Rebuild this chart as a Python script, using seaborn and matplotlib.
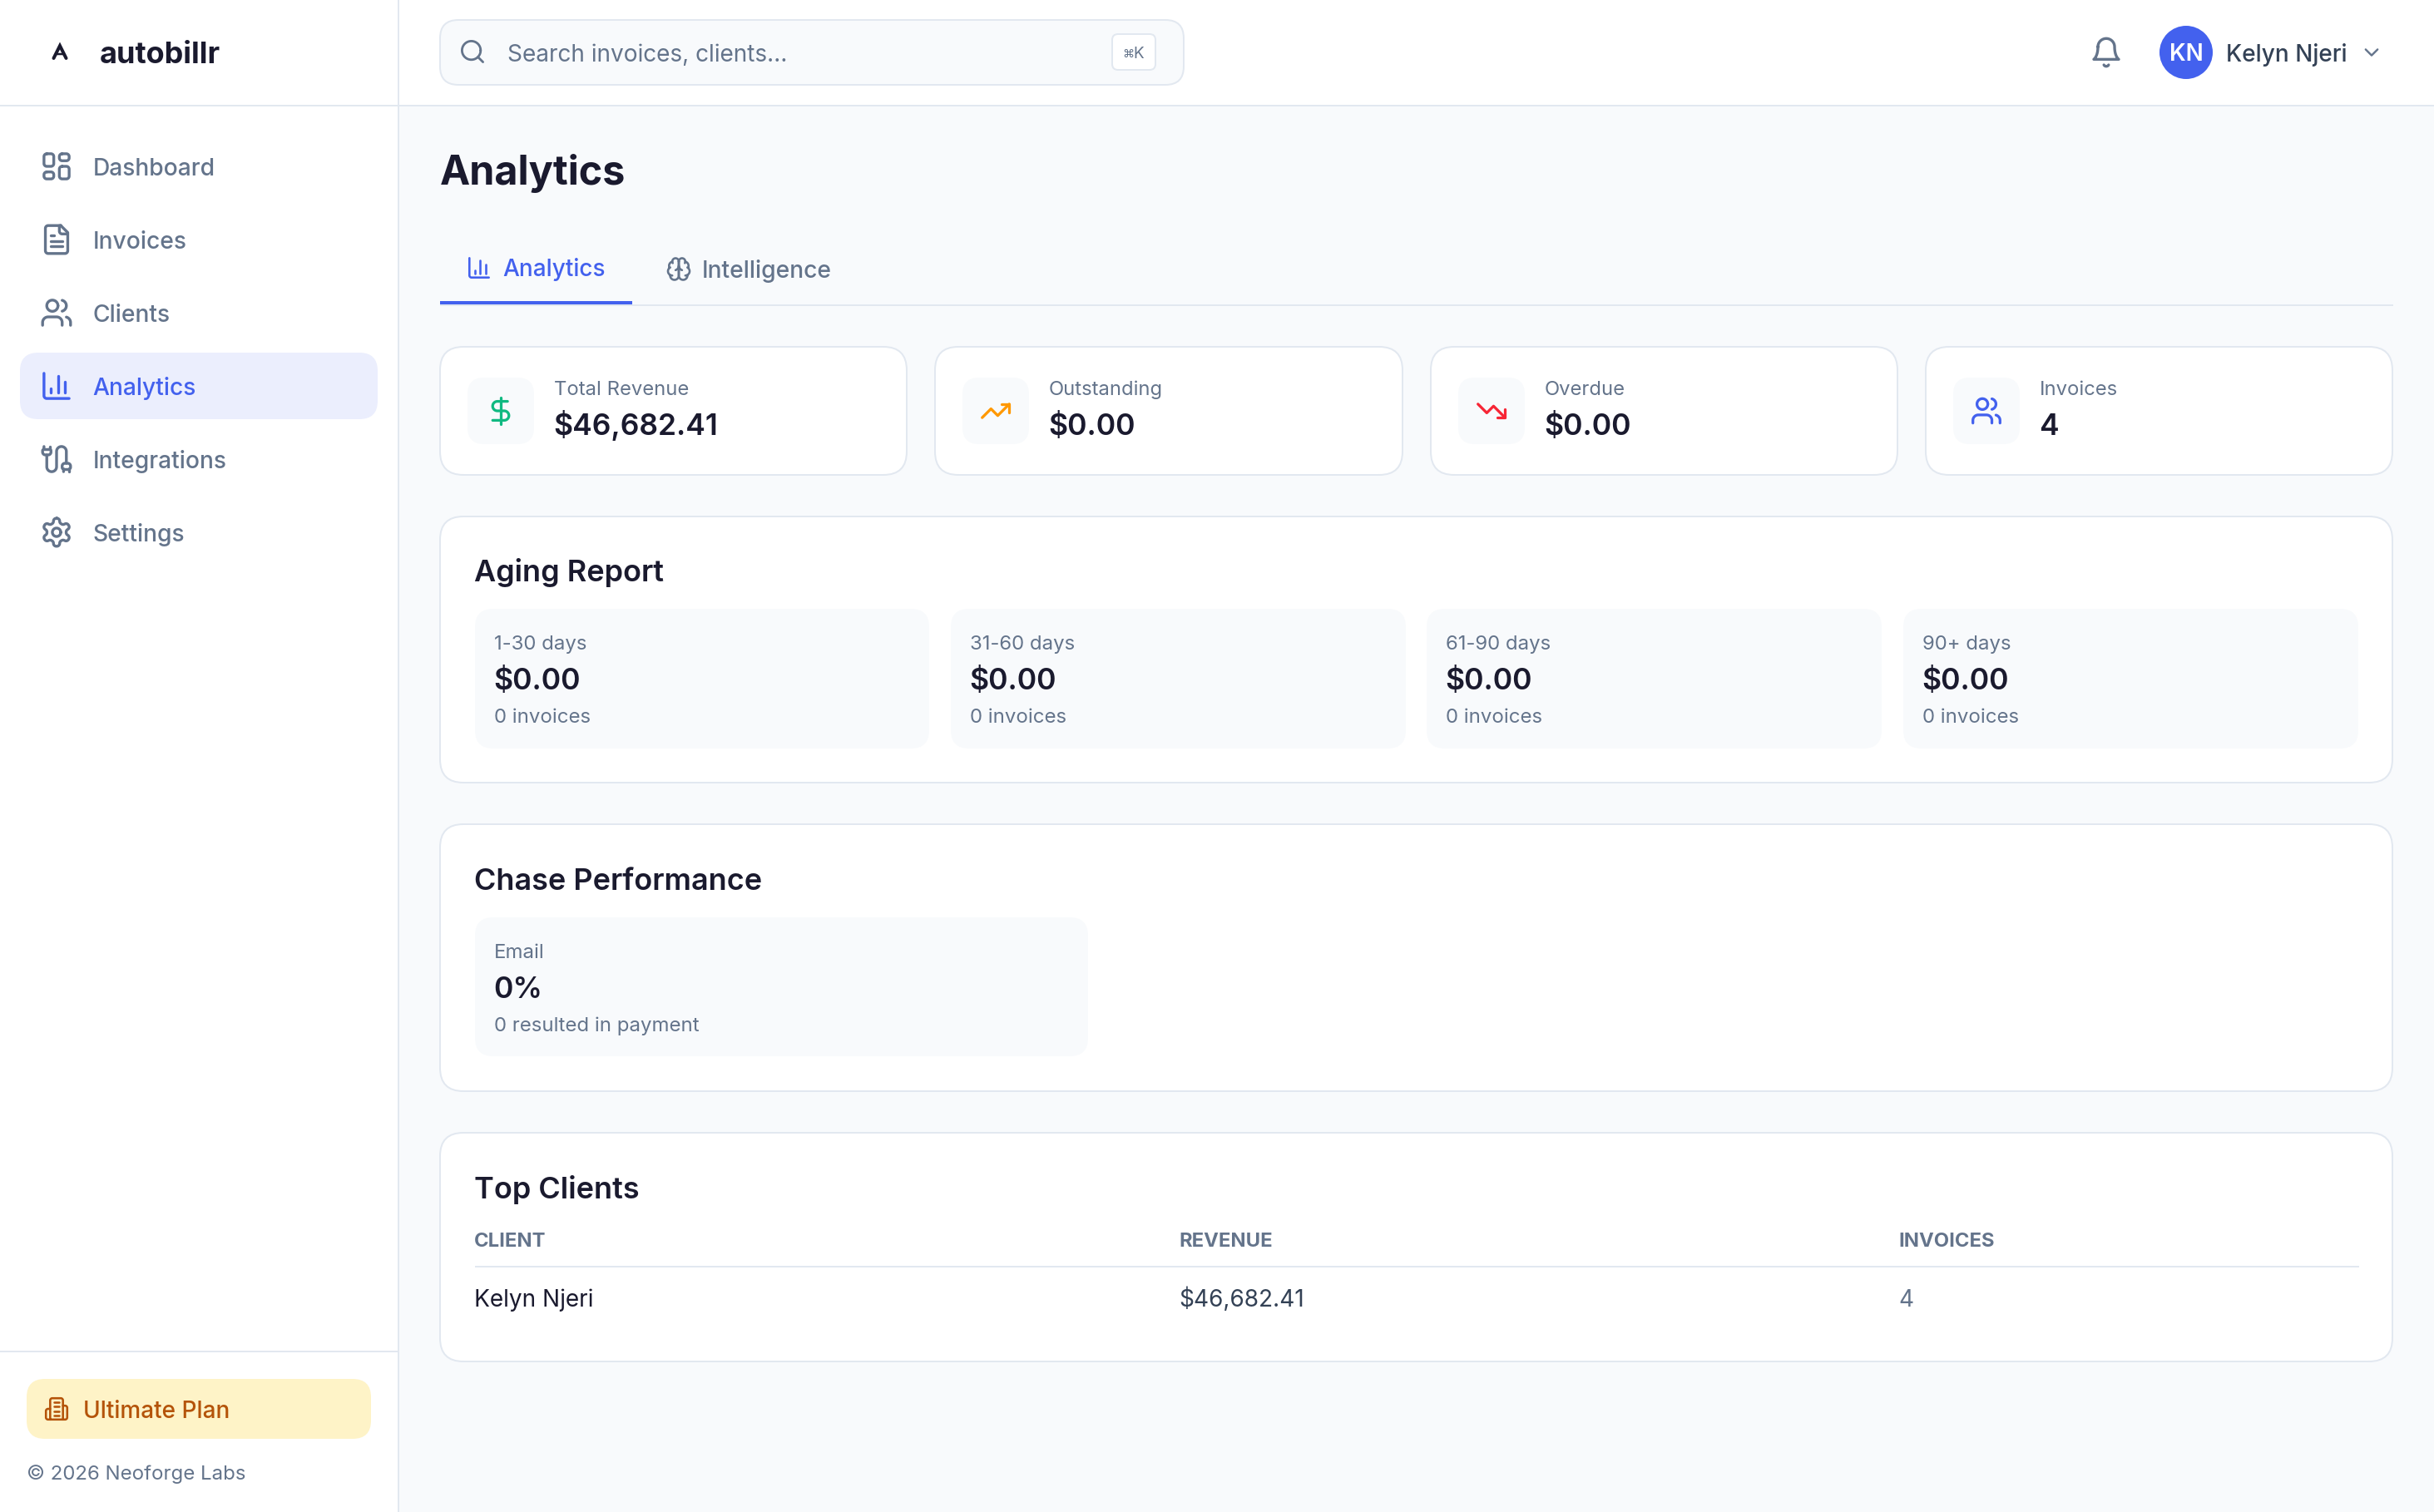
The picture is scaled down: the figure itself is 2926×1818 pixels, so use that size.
import re
import numpy as np
import matplotlib
matplotlib.use("Agg")
import matplotlib.pyplot as plt
import seaborn as sns
from matplotlib.patches import FancyBboxPatch, Circle, Rectangle

# ===== Content =====
nav_labels = ["Dashboard", "Invoices", "Clients", "Analytics", "Integrations", "Settings"]
kpi_labels = ["Total Revenue", "Outstanding", "Overdue", "Invoices"]
kpi_values = ["$46,682.41", "$0.00", "$0.00", "4"]
aging_labels = ["1-30 days", "31-60 days", "61-90 days", "90+ days"]
aging_values = ["$0.00", "$0.00", "$0.00", "$0.00"]
aging_counts = ["0 invoices", "0 invoices", "0 invoices", "0 invoices"]
chase_label, chase_value, chase_sub = "Email", "0%", "0 resulted in payment"
table_headers = ["CLIENT", "REVENUE", "INVOICES"]
table_row = ["Kelyn Njeri", "$46,682.41", "4"]

# ===== Colours =====
INK = "#1a1a2e"
SLATE = "#64748b"
BORDER = "#e2e8f0"
PAGE = "#f8fafc"
ACCENT = "#4361ee"
sns.set_theme(style="white")
plt.rcParams["font.family"] = ["Inter", "DejaVu Sans"]

# ===== Lucide icon paths =====
ICONS = {
    "dashboard": ["M5 3h3a2 2 0 0 1 2 2v5a2 2 0 0 1-2 2H5a2 2 0 0 1-2-2V5a2 2 0 0 1 2-2z",
                  "M16 3h3a2 2 0 0 1 2 2v1a2 2 0 0 1-2 2h-3a2 2 0 0 1-2-2V5a2 2 0 0 1 2-2z",
                  "M16 12h3a2 2 0 0 1 2 2v5a2 2 0 0 1-2 2h-3a2 2 0 0 1-2-2v-5a2 2 0 0 1 2-2z",
                  "M5 16h3a2 2 0 0 1 2 2v1a2 2 0 0 1-2 2H5a2 2 0 0 1-2-2v-1a2 2 0 0 1 2-2z"],
    "file": ["M15 2H6a2 2 0 0 0-2 2v16a2 2 0 0 0 2 2h12a2 2 0 0 0 2-2V7Z",
             "M14 2v4a2 2 0 0 0 2 2h4", "M10 9H8", "M16 13H8", "M16 17H8"],
    "users": ["M16 21v-2a4 4 0 0 0-4-4H6a4 4 0 0 0-4 4v2",
              "M13 7a4 4 0 1 1-8 0a4 4 0 1 1 8 0z",
              "M22 21v-2a4 4 0 0 0-3-3.87", "M16 3.13a4 4 0 0 1 0 7.75"],
    "chart": ["M3 3v16a2 2 0 0 0 2 2h16", "M18 17V9", "M13 17V5", "M8 17v-3"],
    "cable": ["M17 21v-2a1 1 0 0 1-1-1v-1a2 2 0 0 1 2-2h2a2 2 0 0 1 2 2v1a1 1 0 0 1-1 1",
              "M19 15V6.5a3.5 3.5 0 0 0-7 0v11a3.5 3.5 0 0 1-7 0V9",
              "M21 21v-2h-4", "M3 5h4V3",
              "M7 5a1 1 0 0 1 1 1v1a2 2 0 0 1-2 2H4a2 2 0 0 1-2-2V6a1 1 0 0 1 1-1V3"],
    "settings": ["M12.22 2h-.44a2 2 0 0 0-2 2v.18a2 2 0 0 1-1 1.73l-.43.25a2 2 0 0 1-2 0l-.15-.08a2 2 0 0 0-2.73.73l-.22.38a2 2 0 0 0 .73 2.73l.15.1a2 2 0 0 1 1 1.72v.51a2 2 0 0 1-1 1.74l-.15.09a2 2 0 0 0-.73 2.73l.22.38a2 2 0 0 0 2.73.73l.15-.08a2 2 0 0 1 2 0l.43.25a2 2 0 0 1 1 1.73V20a2 2 0 0 0 2 2h.44a2 2 0 0 0 2-2v-.18a2 2 0 0 1 1-1.73l.43-.25a2 2 0 0 1 2 0l.15.08a2 2 0 0 0 2.73-.73l.22-.39a2 2 0 0 0-.73-2.73l-.15-.08a2 2 0 0 1-1-1.74v-.5a2 2 0 0 1 1-1.74l.15-.09a2 2 0 0 0 .73-2.73l-.22-.38a2 2 0 0 0-2.73-.73l-.15.08a2 2 0 0 1-2 0l-.43-.25a2 2 0 0 1-1-1.73V4a2 2 0 0 0-2-2z",
                 "M15 12a3 3 0 1 1-6 0a3 3 0 1 1 6 0z"],
    "brain": ["M12 5a3 3 0 1 0-5.997.125 4 4 0 0 0-2.526 5.77 4 4 0 0 0 .556 6.588A4 4 0 1 0 12 18Z",
              "M12 5a3 3 0 1 1 5.997.125 4 4 0 0 1 2.526 5.77 4 4 0 0 1-.556 6.588A4 4 0 1 1 12 18Z",
              "M15 13a4.5 4.5 0 0 1-3-4 4.5 4.5 0 0 1-3 4",
              "M17.599 6.5a3 3 0 0 0 .399-1.375", "M6.003 5.125A3 3 0 0 0 6.401 6.5",
              "M3.477 10.896a4 4 0 0 1 .585-.396", "M19.938 10.5a4 4 0 0 1 .585.396",
              "M6 18a4 4 0 0 1-1.967-.516", "M19.967 17.484A4 4 0 0 1 18 18"],
    "dollar": ["M12 2V22", "M17 5H9.5a3.5 3.5 0 0 0 0 7h5a3.5 3.5 0 0 1 0 7H6"],
    "up": ["M22 7L13.5 15.5L8.5 10.5L2 17", "M16 7H22V13"],
    "down": ["M22 17L13.5 8.5L8.5 13.5L2 7", "M16 17H22V11"],
    "search": ["M19 11a8 8 0 1 1-16 0a8 8 0 1 1 16 0z", "M21 21l-4.3-4.3"],
    "bell": ["M6 8a6 6 0 0 1 12 0c0 7 3 9 3 9H3s3-2 3-9", "M10.3 21a1.94 1.94 0 0 0 3.4 0"],
    "chevron": ["M6 9l6 6l6-6"],
    "building": ["M6 22V4a2 2 0 0 1 2-2h8a2 2 0 0 1 2 2v18Z",
                 "M6 12H4a2 2 0 0 0-2 2v6a2 2 0 0 0 2 2h2",
                 "M18 9h2a2 2 0 0 1 2 2v9a2 2 0 0 1-2 2h-2",
                 "M10 6h4", "M10 10h4", "M10 14h4", "M10 18h4"],
}


def arc_points(p0, rx, ry, large, sweep, p1):
    # SVG endpoint arc to polyline (no x-axis rotation in these icons)
    dx, dy = (p0 - p1) / 2
    scale = max(1.0, np.sqrt(dx**2 / rx**2 + dy**2 / ry**2))
    rx, ry = rx * scale, ry * scale
    num = max(0.0, rx**2 * ry**2 - rx**2 * dy**2 - ry**2 * dx**2)
    co = np.sqrt(num / (rx**2 * dy**2 + ry**2 * dx**2))
    if large == sweep:
        co = -co
    cx_, cy_ = co * rx * dy / ry, -co * ry * dx / rx
    c = np.array([cx_, cy_]) + (p0 + p1) / 2
    a0 = np.arctan2((dy - cy_) / ry, (dx - cx_) / rx)
    a1 = np.arctan2((-dy - cy_) / ry, (-dx - cx_) / rx)
    if sweep and a1 < a0:
        a1 += 2 * np.pi
    if not sweep and a1 > a0:
        a1 -= 2 * np.pi
    t = np.linspace(a0, a1, 24)[1:]
    return np.column_stack([c[0] + rx * np.cos(t), c[1] + ry * np.sin(t)])


def svg_lines(d):
    tok = re.findall(r"[A-Za-z]|-?\d*\.?\d+", d)
    i, cur, start, pts, lines, cmd = 0, np.zeros(2), np.zeros(2), [], [], ""
    prev_ctrl = None

    def num(n):
        nonlocal i
        vals = [float(v) for v in tok[i:i + n]]
        i += n
        return vals

    while i < len(tok):
        if tok[i].isalpha():
            cmd = tok[i]
            i += 1
        low, rel = cmd.lower(), cmd.islower()
        base = cur if rel else np.zeros(2)
        ctrl = None
        if low == "m":
            cur = base + num(2)
            if pts:
                lines.append(np.array(pts))
            pts, start = [cur.copy()], cur.copy()
            cmd = "l" if rel else "L"
        elif low == "l":
            cur = base + num(2)
            pts.append(cur.copy())
        elif low == "h":
            cur = np.array([base[0] + num(1)[0], cur[1]])
            pts.append(cur.copy())
        elif low == "v":
            cur = np.array([cur[0], base[1] + num(1)[0]])
            pts.append(cur.copy())
        elif low in "cs":
            if low == "c":
                v = num(6)
                c1, c2, end = base + v[:2], base + v[2:4], base + v[4:]
            else:
                v = num(4)
                c1 = cur if prev_ctrl is None else 2 * cur - prev_ctrl
                c2, end = base + v[:2], base + v[2:]
            for t in np.linspace(0, 1, 20)[1:]:
                pts.append((1 - t)**3 * cur + 3 * (1 - t)**2 * t * c1 + 3 * (1 - t) * t**2 * c2 + t**3 * end)
            cur, ctrl = end, c2
        elif low == "a":
            v = num(7)
            end = base + v[5:]
            pts.extend(arc_points(cur, v[0], v[1], bool(v[3]), bool(v[4]), end))
            cur = end
        elif low == "z":
            pts.append(start.copy())
            cur = start.copy()
        prev_ctrl = ctrl
    if pts:
        lines.append(np.array(pts))
    return lines


# ===== Canvas: one axes in screenshot pixels =====
fig = plt.figure(figsize=(29.26, 18.18), dpi=100, facecolor=PAGE)
ax = fig.add_axes([0, 0, 1, 1])
ax.set_xlim(0, 2926)
ax.set_ylim(1818, 0)
ax.set_facecolor(PAGE)
ax.set_xticks([])
ax.set_yticks([])
sns.despine(ax=ax, left=True, bottom=True)


def pt(px):
    return px * 0.72


def box(x0, y0, x1, y1, r, fc, ec="none", lw=2, z=2):
    ax.add_patch(FancyBboxPatch((x0, y0), x1 - x0, y1 - y0,
                                boxstyle=f"round,pad=0,rounding_size={r}",
                                fc=fc, ec=ec, lw=pt(lw), zorder=z))


def rect(x0, y0, x1, y1, fc, z=1):
    ax.add_patch(Rectangle((x0, y0), x1 - x0, y1 - y0, fc=fc, ec="none", zorder=z))


def label(x, y, s, size, color=INK, weight="normal", ha="left"):
    # y is the baseline, size in screenshot pixels
    ax.text(x, y, s, fontsize=pt(size), color=color, fontweight=weight, ha=ha, va="baseline", zorder=6)


def icon(name, cx, cy, s, color, stroke=2.0):
    for d in ICONS[name]:
        for ln in svg_lines(d):
            ax.plot(cx + (ln[:, 0] - 12) * s, cy + (ln[:, 1] - 12) * s, color=color,
                    lw=pt(stroke * s), solid_capstyle="round", solid_joinstyle="round", zorder=6)


# ===== Frame =====
rect(0, 0, 478, 1818, "white")
rect(478, 0, 2926, 126, "white")
rect(478, 0, 480, 1818, BORDER, z=3)
rect(0, 126, 2926, 128, BORDER, z=3)
rect(0, 1624, 478, 1626, BORDER, z=3)

# ===== Sidebar =====
ax.plot([64.5, 72, 79.5], [70, 55, 70], color=INK, lw=pt(4), solid_joinstyle="miter", zorder=6)
ax.plot([68, 76], [65, 65], color=INK, lw=pt(2.5), zorder=6)
label(120, 76, "autobillr", 36, weight="bold")

nav_icons = ["dashboard", "file", "users", "chart", "cable", "settings"]
nav_y = [201, 289, 377, 465, 553, 641]
box(24, 424, 454, 504, 22, "#ebeefd")
for name, ic, y in zip(nav_labels, nav_icons, nav_y):
    col = ACCENT if name == "Analytics" else SLATE
    icon(ic, 68, y - 1, 1.68, col)
    label(111.5, y + 10, name, 28.2, col, "medium")

box(32, 1658, 446, 1730, 22, "#fef3c7")
icon("building", 68, 1694, 1.28, "#b45309")
label(100, 1705, "Ultimate Plan", 28, "#b45309", "medium")
label(32, 1779, "© 2026 Neoforge Labs", 24, SLATE)

# ===== Top bar =====
box(529, 24, 1423, 102, 22, PAGE, BORDER)
icon("search", 568, 62, 1.4, SLATE)
label(610, 74, "Search invoices, clients...", 28, SLATE)
box(1337, 41, 1389, 84, 7, "white", BORDER)
label(1349, 69, "⌘", 14, SLATE)
label(1362, 70, "K", 19, SLATE)
icon("bell", 2532, 63, 1.67, SLATE)
ax.add_patch(Circle((2628, 63), 32, fc=ACCENT, ec="none", zorder=5))
label(2628, 73, "KN", 28, "white", "semibold", ha="center")
label(2676, 74, "Kelyn Njeri", 28, "#334155", "medium")
icon("chevron", 2851, 63, 1.2, SLATE)

# ===== Page title and tabs =====
label(529, 222.5, "Analytics", 48.5, weight="bold")
rect(529, 366, 2877, 368, BORDER, z=3)
rect(529, 362, 760, 366, ACCENT, z=4)
icon("chart", 576, 322, 1.3, ACCENT)
label(604, 332, "Analytics", 28, ACCENT, "medium")
icon("brain", 816, 323.5, 1.3, SLATE)
label(844, 334, "Intelligence", 28.2, SLATE, "medium")

# ===== KPI cards =====
kpi_x = [(529, 1090), (1124, 1686), (1720, 2281), (2315, 2876)]
kpi_icons = [("dollar", "#10b981", 1.63), ("up", "#ff9800", 1.63),
             ("down", "#f72535", 1.63), ("users", ACCENT, 1.63)]
for (x0, x1), (ic, col, s), lab, val in zip(kpi_x, kpi_icons, kpi_labels, kpi_values):
    box(x0, 417, x1, 571, 28, "white", BORDER)
    box(x0 + 33, 454, x0 + 113, 534, 20, PAGE, z=3)
    icon(ic, x0 + 73, 494, s, col)
    label(x0 + 137, 475, lab, 23.8, SLATE)
    label(x0 + 136.5, 523, val, 35.5, weight="semibold")

# ===== Aging report =====
box(529, 621, 2876, 941, 28, "white", BORDER)
label(570, 698.5, "Aging Report", 36, weight="semibold")
aging_x = [(571, 1117), (1143, 1690), (1715, 2262), (2288, 2835)]
for (x0, x1), lab, val, cnt in zip(aging_x, aging_labels, aging_values, aging_counts):
    box(x0, 732, x1, 900, 22, PAGE, z=3)
    label(x0 + 23, 781, lab, 24, SLATE)
    label(x0 + 22, 829, val, 35.5, weight="semibold")
    label(x0 + 23, 869, cnt, 24, SLATE)

# ===== Chase performance =====
box(529, 991, 2876, 1312, 28, "white", BORDER)
label(570, 1069.5, "Chase Performance", 36, weight="semibold")
box(571, 1103, 1308, 1270, 22, PAGE, z=3)
label(594, 1152, chase_label, 24, SLATE)
label(593, 1200, chase_value, 35.5, weight="semibold")
label(594, 1240, chase_sub, 24, SLATE)

# ===== Top clients =====
box(529, 1362, 2876, 1637, 28, "white", BORDER)
label(570, 1440.5, "Top Clients", 36, weight="semibold")
col_x = [570, 1417, 2282]
row_col = [INK, "#334155", SLATE]
for x, head, cell, col in zip(col_x, table_headers, table_row, row_col):
    label(x, 1499, head, 23.8, SLATE, "bold")
    label(x, 1571, cell, 28, col)
rect(571, 1522, 2836, 1524, BORDER, z=4)

fig.savefig("out.png", dpi=100, facecolor=PAGE)
